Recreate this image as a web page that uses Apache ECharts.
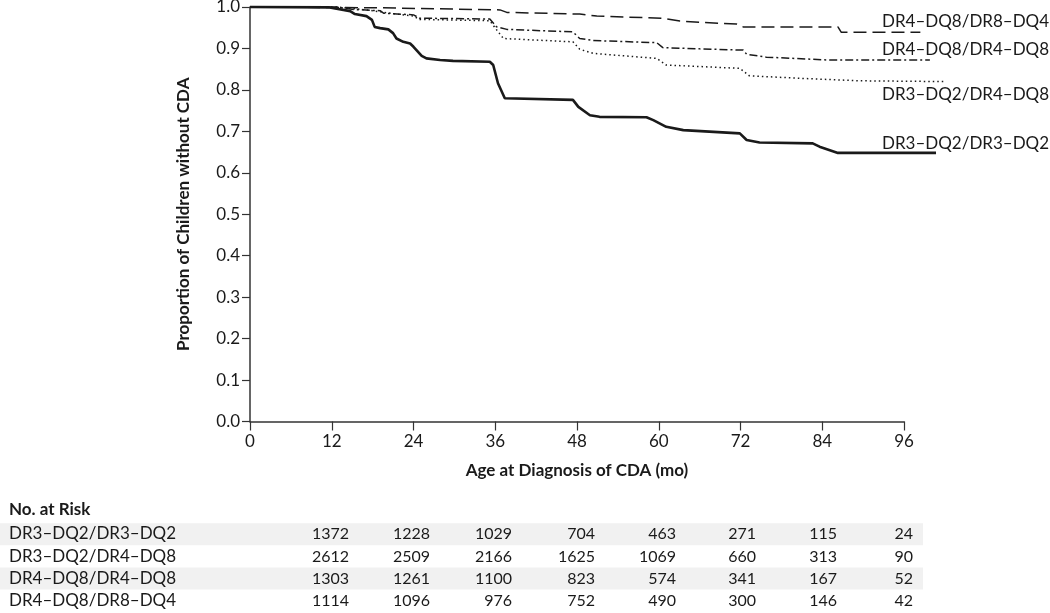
<!DOCTYPE html>
<html>
<head>
<meta charset="utf-8">
<script src="https://cdn.jsdelivr.net/npm/echarts@6/dist/echarts.min.js"></script>
<style>
html,body{margin:0;padding:0;background:#fff;}
#c{width:1050px;height:613px;}
</style>
</head>
<body>
<div id="c"></div>
<script>
// ---- Data ----
const groupNames = ['DR3–DQ2/DR3–DQ2', 'DR3–DQ2/DR4–DQ8', 'DR4–DQ8/DR4–DQ8', 'DR4–DQ8/DR8–DQ4'];
const xTicks = [0, 12, 24, 36, 48, 60, 72, 84, 96];

// DR3–DQ2/DR3–DQ2 (solid)
const monthsA = [0, 11.7, 14.7, 15.4, 17.1, 17.9, 18.3, 19.1, 20.3, 21.0, 21.5, 22.5, 23.5, 24.0, 25.2, 25.9, 27.9, 29.8, 35.2, 35.7, 36.4, 37.4, 47.4, 48.2, 49.9, 51.3, 58.2, 59.2, 61.1, 63.6, 71.9, 72.9, 74.8, 82.6, 83.6, 86.3, 100.7];
const survA  = [1.0, 0.999, 0.990, 0.983, 0.978, 0.969, 0.952, 0.949, 0.946, 0.937, 0.924, 0.916, 0.912, 0.904, 0.882, 0.876, 0.872, 0.870, 0.868, 0.860, 0.816, 0.780, 0.776, 0.759, 0.739, 0.735, 0.734, 0.727, 0.711, 0.703, 0.695, 0.679, 0.673, 0.671, 0.663, 0.648, 0.648];

// DR3–DQ2/DR4–DQ8 (dotted)
const monthsB = [0, 12.7, 17.1, 20.1, 24.0, 24.9, 35.2, 36.2, 37.2, 47.4, 48.4, 50.4, 59.7, 61.1, 71.9, 73.3, 80.7, 89.5, 102.2];
const survB  = [1.0, 1.0, 0.993, 0.986, 0.978, 0.970, 0.967, 0.945, 0.924, 0.916, 0.898, 0.888, 0.876, 0.860, 0.852, 0.834, 0.828, 0.822, 0.820];

// DR4–DQ8/DR4–DQ8 (dash-dot)
const monthsC = [0, 12.7, 15.2, 19.1, 19.6, 24.0, 24.9, 35.2, 36.2, 37.7, 47.4, 48.4, 50.4, 59.7, 60.6, 66.0, 72.4, 72.9, 75.8, 85.1, 99.8];
const survC  = [1.0, 1.0, 0.994, 0.991, 0.985, 0.981, 0.973, 0.971, 0.952, 0.946, 0.940, 0.924, 0.919, 0.914, 0.902, 0.899, 0.896, 0.886, 0.879, 0.872, 0.872];

// DR4–DQ8/DR8–DQ4 (dashed)
const monthsD = [0, 19.6, 36.7, 37.7, 48.4, 50.9, 60.6, 63.1, 66.0, 71.4, 72.4, 86.3, 86.8, 98.4];
const survD  = [1.0, 0.998, 0.993, 0.987, 0.983, 0.978, 0.973, 0.966, 0.963, 0.959, 0.952, 0.952, 0.939, 0.939];

// Numbers at risk
const riskA = [1372, 1228, 1029, 704, 463, 271, 115, 24];
const riskB = [2612, 2509, 2166, 1625, 1069, 660, 313, 90];
const riskC = [1303, 1261, 1100, 823, 574, 341, 167, 52];
const riskD = [1114, 1096, 976, 752, 490, 300, 146, 42];

// ---- Chart ----
const FONT = 'Lato, "Open Sans", sans-serif';
const INK = '#1a1a1a';
const pairs = (xs, ys) => xs.map((x, i) => [x, ys[i]]);

const chart = echarts.init(document.getElementById('c'), null, {renderer: 'canvas'});

function lineSeries(name, xs, ys, width, dash) {
  return {
    name, type: 'line', data: pairs(xs, ys), showSymbol: false, symbol: 'none',
    xAxisIndex: 1, yAxisIndex: 1,
    clip: false, animation: false,
    lineStyle: {color: INK, width: width, type: dash, cap: 'butt'}
  };
}

// Layout: visible axes span 0..96 months; curves extend past 96,
// so they live in a second (hidden-axis) grid with the same scale, 0..104 months.
const gridLeft = 250, gridTop = 7, gridBottom = 191.5, axisRight = 904;
const pxPerMonth = (axisRight - gridLeft) / 96;
const dataMax = 104;
const dataRight = 1050 - (gridLeft + dataMax * pxPerMonth);

const hiddenAxis = (gridIndex, max) => ({
  type: 'value', gridIndex, min: 0, max, show: false,
  axisLine: {show: false}, axisTick: {show: false}, axisLabel: {show: false}, splitLine: {show: false}
});

// Labels for curves
const curveLabels = [
  {text: groupNames[3], y: 21.7},
  {text: groupNames[2], y: 50},
  {text: groupNames[1], y: 95},
  {text: groupNames[0], y: 143.5}
];

// Risk table layout
const colRight = [349, 430, 512, 595, 676, 756, 837, 913];
const rowCenters = [534, 556.5, 578.5, 600.5];
const rowTops = [523.3, 545.3, 567.5, 589.5];
const riskRows = [riskA, riskB, riskC, riskD];

const graphics = [];
curveLabels.forEach(l => graphics.push({
  type: 'text', silent: true, x: 882, y: l.y,
  style: {text: l.text, font: '17px ' + FONT, fill: INK, textVerticalAlign: 'middle'}
}));
graphics.push({
  type: 'text', silent: true, x: 9, y: 510,
  style: {text: 'No. at Risk', font: 'bold 17px ' + FONT, fill: INK, textVerticalAlign: 'middle'}
});
[0, 2].forEach(r => graphics.push({
  type: 'rect', silent: true, z: -1,
  shape: {x: 0, y: rowTops[r], width: 923, height: 22},
  style: {fill: '#f1f1f1'}
}));
riskRows.forEach((row, r) => {
  graphics.push({
    type: 'text', silent: true, x: 9, y: rowCenters[r],
    style: {text: groupNames[r], font: '17px ' + FONT, fill: INK, textVerticalAlign: 'middle'}
  });
  row.forEach((v, k) => graphics.push({
    type: 'text', silent: true, x: colRight[k], y: rowCenters[r],
    style: {text: String(v), font: '16px ' + FONT, fill: INK, textAlign: 'right', textVerticalAlign: 'middle'}
  }));
});

chart.setOption({
  animation: false,
  backgroundColor: '#fff',
  grid: [
    {left: gridLeft, top: gridTop, right: 1050 - axisRight, bottom: gridBottom, containLabel: false, outerBoundsMode: 'none'},
    {left: gridLeft, top: gridTop, right: dataRight, bottom: gridBottom, containLabel: false, outerBoundsMode: 'none'}
  ],
  xAxis: [{
    type: 'value', gridIndex: 0, min: 0, max: 96, interval: 12,
    name: 'Age at Diagnosis of CDA (mo)', nameLocation: 'middle', nameGap: 41,
    nameTextStyle: {fontFamily: FONT, fontWeight: 'bold', fontSize: 17, color: INK},
    axisLine: {show: true, onZero: false, lineStyle: {color: '#333', width: 1.5}},
    axisTick: {show: true, inside: false, length: 9, lineStyle: {color: '#333', width: 1.2}},
    axisLabel: {margin: 12, fontFamily: FONT, fontSize: 17, color: INK,
      formatter: v => xTicks.includes(v) ? String(v) : ''},
    splitLine: {show: false}
  }, hiddenAxis(1, dataMax)],
  yAxis: [{
    type: 'value', gridIndex: 0, min: 0, max: 1, interval: 0.1,
    name: 'Proportion of Children without CDA', nameLocation: 'middle', nameGap: 58,
    nameTextStyle: {fontFamily: FONT, fontWeight: 'bold', fontSize: 17, color: INK},
    axisLine: {show: true, lineStyle: {color: '#333', width: 1.5}},
    axisTick: {show: true, inside: false, length: 8, lineStyle: {color: '#333', width: 1.2}},
    axisLabel: {margin: 10, fontFamily: FONT, fontSize: 17, color: INK, formatter: v => v.toFixed(1)},
    splitLine: {show: false}
  }, hiddenAxis(1, 1)],
  series: [
    lineSeries(groupNames[0], monthsA, survA, 2.6, 'solid'),
    lineSeries(groupNames[1], monthsB, survB, 1.5, [1.5, 3]),
    lineSeries(groupNames[2], monthsC, survC, 1.5, [8, 3, 2, 3]),
    lineSeries(groupNames[3], monthsD, survD, 1.5, [13, 6])
  ],
  graphic: graphics
});
</script>
</body>
</html>
